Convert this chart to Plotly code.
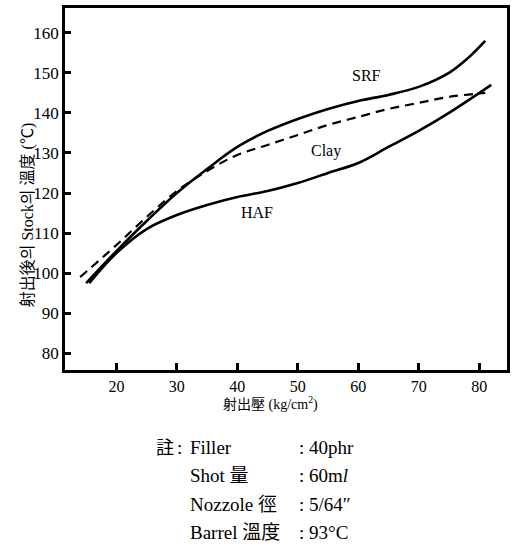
import plotly.graph_objects as go

# Data
srf_x = [15, 20, 25, 30, 35, 40, 45, 50, 55, 60, 65, 70, 75, 78, 81]
srf_y = [97.5, 105.5, 113, 120, 126, 131.5, 135.5, 138.5, 141, 143, 144.5, 146.5, 150, 153.5, 158]
clay_x = [14, 20, 25, 30, 35, 40, 45, 50, 55, 60, 65, 70, 75, 81]
clay_y = [99, 107, 114, 120.5, 125.5, 129.5, 132, 134.5, 137, 139, 141, 142.5, 144, 145]
haf_x = [15.5, 20, 25, 30, 35, 40, 45, 50, 55, 60, 65, 70, 75, 82]
haf_y = [97.5, 105, 111, 114.5, 117, 119, 120.5, 122.5, 125, 127.5, 131.5, 135.5, 140, 147]

x_ticks = [20, 30, 40, 50, 60, 70, 80]
y_ticks = [80, 90, 100, 110, 120, 130, 140, 150, 160]

notes_left = ["Filler", "Shot 量", "Nozzole 徑", "Barrel 溫度"]
notes_right = [": 40phr", ": 60m<i>l</i>", ": 5/64\u2033", ": 93°C"]

W, H = 515, 556
L, R, T, B = 65, 5, 8, 186
PW, PH = W - L - R, H - T - B

def px(x):
    return (x - L) / PW

def py(y):
    return (H - B - y) / PH

SERIF = "'Liberation Serif', 'Noto Sans CJK KR', serif"

fig = go.Figure()
fig.add_trace(go.Scatter(x=srf_x, y=srf_y, mode="lines", line=dict(color="black", width=2.6, shape="spline"), showlegend=False))
fig.add_trace(go.Scatter(x=clay_x, y=clay_y, mode="lines", line=dict(color="black", width=2.2, dash="9px,6px", shape="spline"), showlegend=False))
fig.add_trace(go.Scatter(x=haf_x, y=haf_y, mode="lines", line=dict(color="black", width=2.6, shape="spline"), showlegend=False))

annotations = [
    dict(x=61.3, y=149.3, xref="x", yref="y", text="SRF", showarrow=False, font=dict(family=SERIF, size=16, color="black")),
    dict(x=54.6, y=130.6, xref="x", yref="y", text="Clay", showarrow=False, font=dict(family=SERIF, size=16, color="black")),
    dict(x=43.2, y=115.2, xref="x", yref="y", text="HAF", showarrow=False, font=dict(family=SERIF, size=16, color="black")),
    dict(x=px(17), y=py(215), xref="paper", yref="paper", text="射出後의 Stock의 溫度 (℃)", textangle=-90,
         showarrow=False, font=dict(family=SERIF, size=16, color="black")),
    dict(x=px(272), y=py(415), xref="paper", yref="paper", text="射出壓 (kg/cm<sup>2</sup>)",
         showarrow=False, font=dict(family=SERIF, size=14, color="black")),
    dict(x=px(155), y=py(460), xref="paper", yref="paper", text="註", xanchor="left",
         showarrow=False, font=dict(family=SERIF, size=18, color="black")),
    dict(x=px(176), y=py(460), xref="paper", yref="paper", text=":", xanchor="left",
         showarrow=False, font=dict(family=SERIF, size=19, color="black")),
]
ys = [460, 488, 517, 545]
for i, (a, b) in enumerate(zip(notes_left, notes_right)):
    annotations.append(dict(x=px(189), y=py(ys[i]), xref="paper", yref="paper", text=a, xanchor="left",
                            showarrow=False, font=dict(family=SERIF, size=19, color="black")))
    annotations.append(dict(x=px(299), y=py(ys[i]), xref="paper", yref="paper", text=b, xanchor="left",
                            showarrow=False, font=dict(family=SERIF, size=19, color="black")))

fig.update_layout(
    width=W, height=H, margin=dict(l=L, r=R, t=T, b=B),
    paper_bgcolor="white", plot_bgcolor="white",
    annotations=annotations,
    xaxis=dict(range=[11.5, 84.6], tickvals=x_ticks, ticks="inside", ticklen=7, tickwidth=2.5, tickcolor="black",
               showline=True, linewidth=2.5, linecolor="black", mirror=True, showgrid=False, zeroline=False,
               tickfont=dict(family=SERIF, size=16, color="black")),
    yaxis=dict(range=[75.8, 166.2], tickvals=y_ticks, ticks="inside", ticklen=6, tickwidth=2.5, tickcolor="black",
               showline=True, linewidth=2.5, linecolor="black", mirror=True, showgrid=False, zeroline=False,
               tickfont=dict(family=SERIF, size=17, color="black")),
)
fig.write_html("out.html")
